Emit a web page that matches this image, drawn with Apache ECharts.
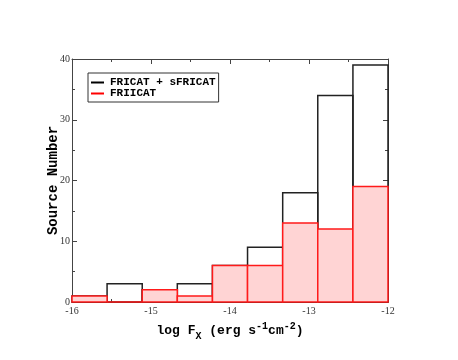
<html lang="en">
<head>
    <meta charset="UTF-8">
    <title>Histogram</title>
    <script src="https://cdn.jsdelivr.net/npm/echarts@6.0.0/dist/echarts.min.js"></script>
    <style>
        html, body { margin: 0; padding: 0; background: #fff; }
        #my-chart { width: 458px; height: 360px; }
    </style>
</head>
<body>
    <div id="my-chart"></div>
    <script>
        // bin edges of log Fx (9 bins between -16 and -12)
        var binEdges = [-16, -15.556, -15.111, -14.667, -14.222, -13.778, -13.333, -12.889, -12.444, -12];
        var fricatCounts = [1, 3, 2, 3, 6, 9, 18, 34, 39];
        var friicatCounts = [1, 0, 2, 1, 6, 6, 13, 12, 19];
        var yTicks = [0, 10, 20, 30, 40];
        var xTicks = [-16, -15, -14, -13, -12];

        function binData(counts) {
            return counts.map(function (c, i) { return [binEdges[i], binEdges[i + 1], c]; });
        }

        function makeRender(fill, stroke) {
            return function (params, api) {
                var p0 = api.coord([api.value(0), api.value(2)]);
                var p1 = api.coord([api.value(1), 0]);
                return {
                    type: 'rect',
                    shape: { x: p0[0], y: p0[1], width: p1[0] - p0[0], height: p1[1] - p0[1] },
                    style: { fill: fill, stroke: stroke, lineWidth: 1.5 }
                };
            };
        }

        var chart = echarts.init(document.getElementById('my-chart'));
        var tickFont = { fontFamily: 'Liberation Serif', fontSize: 10, color: '#333' };
        var lineStyle = { color: '#444', width: 1 };
        var titleFont = { fontFamily: 'Liberation Mono', fontWeight: 'bold', color: '#000' };

        function frameAxis(extra) {
            return Object.assign({
                type: 'value',
                axisLine: { show: true, onZero: false, lineStyle: lineStyle },
                axisTick: { show: true, inside: true, length: 5, lineStyle: lineStyle },
                minorTick: { show: true, splitNumber: 2, length: 3, lineStyle: lineStyle },
                splitLine: { show: false }
            }, extra);
        }

        var option = {
            animation: false,
            grid: { left: 72, right: 70, top: 59, bottom: 58 },
            legend: {
                left: 88, top: 73,
                orient: 'vertical',
                itemGap: 0,
                itemWidth: 13,
                itemHeight: 2,
                icon: 'rect',
                padding: [4, 3, 3, 3],
                borderColor: '#333',
                borderWidth: 1,
                borderRadius: 0,
                selectedMode: false,
                textStyle: Object.assign({ fontSize: 11, padding: [0, 0, 0, 1], lineHeight: 11 }, titleFont),
                data: [
                    { name: 'FRICAT + sFRICAT', itemStyle: { color: '#000' } },
                    { name: 'FRIICAT', itemStyle: { color: '#ff0000' } }
                ]
            },
            xAxis: [frameAxis({
                min: xTicks[0], max: xTicks[xTicks.length - 1], interval: 1,
                axisLabel: Object.assign({ margin: 4 }, tickFont),
                name: '{t|log F}{s|X}{t| (erg s}{p|-1}{t|cm}{p|-2}{t|)}',
                nameLocation: 'middle',
                nameGap: 19,
                nameMoveOverlap: false,
                nameTextStyle: {
                    rich: {
                        t: Object.assign({ fontSize: 13 }, titleFont),
                        s: Object.assign({ fontSize: 10, padding: [10, 0, 0, 0] }, titleFont),
                        p: Object.assign({ fontSize: 10, padding: [0, 0, 10, 0] }, titleFont)
                    }
                }
            }), frameAxis({
                position: 'top',
                min: xTicks[0], max: xTicks[xTicks.length - 1], interval: 1,
                axisLabel: { show: false }
            })],
            yAxis: [frameAxis({
                min: yTicks[0], max: yTicks[yTicks.length - 1], interval: 10,
                axisLabel: Object.assign({ margin: 2 }, tickFont),
                name: 'Source Number',
                nameLocation: 'middle',
                nameGap: 12,
                nameMoveOverlap: false,
                nameTextStyle: Object.assign({ fontSize: 14 }, titleFont)
            }), frameAxis({
                position: 'right',
                min: yTicks[0], max: yTicks[yTicks.length - 1], interval: 10,
                axisLabel: { show: false }
            })],
            series: [{
                name: 'FRICAT + sFRICAT',
                type: 'custom',
                itemStyle: { color: '#000' },
                renderItem: makeRender('none', '#222'),
                data: binData(fricatCounts)
            }, {
                name: 'FRIICAT',
                type: 'custom',
                itemStyle: { color: '#ff0000' },
                renderItem: makeRender('#ffd4d4', '#ff1a1a'),
                data: binData(friicatCounts)
            }]
        };
        chart.setOption(option);
    </script>
</body>
</html>
